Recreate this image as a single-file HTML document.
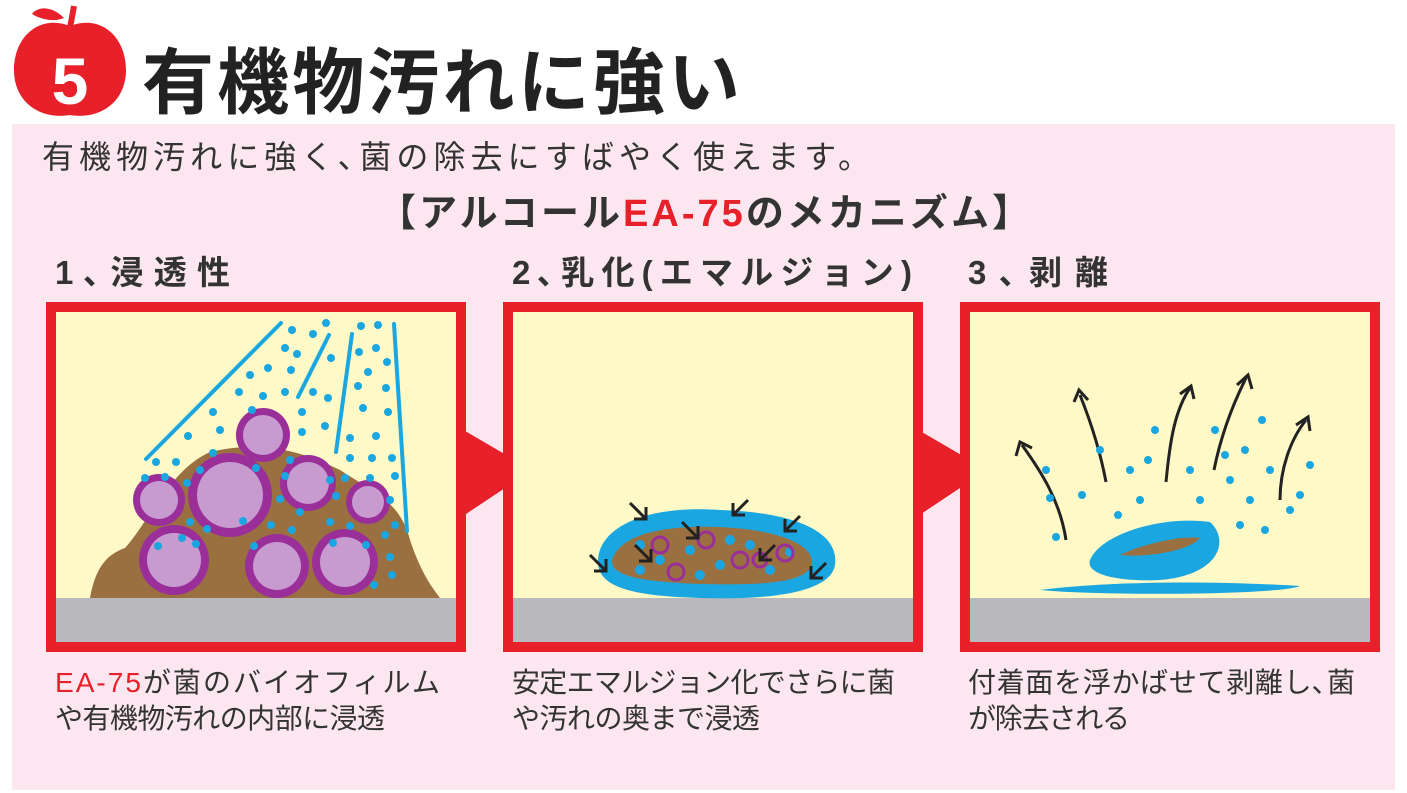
<!DOCTYPE html>
<html><head><meta charset="utf-8"><style>
body{margin:0;width:1407px;height:793px;background:#fff;overflow:hidden}
svg{display:block}
text{font-family:"Liberation Sans","Noto Sans CJK JP",sans-serif}
</style></head><body>
<svg width="1407" height="793" viewBox="0 0 1407 793" xmlns="http://www.w3.org/2000/svg">
<rect x="12" y="124" width="1383" height="666" fill="#fce7f0"/>
<!-- apple -->
<path d="M70 26 C40 14 14 36 14 70 C14 102 40 120 70 115 C100 120 126 102 126 70 C126 36 100 14 70 26Z" fill="#e8202a"/>
<path d="M70 28 L74 6" stroke="#e8202a" stroke-width="6"/>
<path d="M64 18 C52 6 38 6 32 14 C42 20 54 22 64 18Z" fill="#e8202a"/>
<text x="70" y="104" font-size="66" font-weight="bold" fill="#fff" text-anchor="middle">5</text>
<text x="142" y="108" font-size="72" font-weight="bold" fill="#222" textLength="598" lengthAdjust="spacing">有機物汚れに強い</text>
<text x="42" y="168" font-size="32" fill="#333" textLength="828" lengthAdjust="spacing">有機物汚れに強く､菌の除去にすばやく使えます。</text>
<text x="378" y="226" font-size="38" font-weight="bold" fill="#333" textLength="652" lengthAdjust="spacing">【アルコール<tspan fill="#e8202a">EA-75</tspan>のメカニズム】</text>
<text x="55" y="284" font-size="33" font-weight="bold" fill="#333" textLength="175" lengthAdjust="spacing">1､浸透性</text>
<text x="512" y="284" font-size="33" font-weight="bold" fill="#333" textLength="400" lengthAdjust="spacing">2､乳化(エマルジョン)</text>
<text x="968" y="284" font-size="33" font-weight="bold" fill="#333" textLength="140" lengthAdjust="spacing">3､剥離</text>
<!-- connectors -->
<polygon points="460,428 532,470 460,518" fill="#e8202a"/>
<polygon points="915,428 987,470 915,518" fill="#e8202a"/>
<!-- panels -->
<g>
<rect x="51" y="307" width="410" height="340" fill="#fef9c6" stroke="#e8202a" stroke-width="10"/>
<rect x="56" y="598" width="400" height="44" fill="#b9b9bd"/>
<rect x="508" y="307" width="410" height="340" fill="#fef9c6" stroke="#e8202a" stroke-width="10"/>
<rect x="513" y="598" width="400" height="44" fill="#b9b9bd"/>
<rect x="965" y="307" width="410" height="340" fill="#fef9c6" stroke="#e8202a" stroke-width="10"/>
<rect x="970" y="598" width="400" height="44" fill="#b9b9bd"/>
</g>
<!-- panel1 -->
<path d="M90 598 C95 570 105 555 125 548 C150 520 170 470 210 452 C260 440 300 450 340 470 C370 490 400 500 410 540 C420 570 430 585 440 598Z" fill="#9a7040"/>
<g stroke="#1aa6e0" stroke-width="4" stroke-linecap="round">
<line x1="146" y1="459" x2="281" y2="323"/><line x1="298" y1="397" x2="329" y2="335"/>
<line x1="336" y1="452" x2="352" y2="334"/><line x1="394" y1="324" x2="407" y2="531"/>
</g>
<g fill="#9b2f9a">
<circle cx="263" cy="435" r="27"/><circle cx="230" cy="495" r="42"/><circle cx="308" cy="483" r="28"/>
<circle cx="159" cy="500" r="26"/><circle cx="368" cy="502" r="22"/><circle cx="174" cy="560" r="35"/>
<circle cx="277" cy="566" r="32"/><circle cx="345" cy="562" r="33"/>
</g>
<g fill="#c79ad0">
<circle cx="263" cy="435" r="20"/><circle cx="230" cy="495" r="33"/><circle cx="308" cy="483" r="21"/>
<circle cx="159" cy="500" r="19"/><circle cx="368" cy="502" r="16"/><circle cx="174" cy="560" r="27"/>
<circle cx="277" cy="566" r="24"/><circle cx="345" cy="562" r="25"/>
</g>
<g fill="#1aa6e0">
<circle cx="292" cy="330" r="4"/><circle cx="313" cy="334" r="4"/><circle cx="326" cy="323" r="4"/><circle cx="361" cy="326" r="4"/><circle cx="378" cy="325" r="4"/>
<circle cx="285" cy="348" r="4"/><circle cx="297" cy="354" r="4"/><circle cx="359" cy="352" r="4"/><circle cx="376" cy="348" r="4"/><circle cx="387" cy="362" r="4"/>
<circle cx="250" cy="375" r="4"/><circle cx="268" cy="368" r="4"/><circle cx="291" cy="370" r="4"/><circle cx="331" cy="358" r="4"/><circle cx="368" cy="372" r="4"/>
<circle cx="239" cy="392" r="4"/><circle cx="263" cy="396" r="4"/><circle cx="285" cy="392" r="4"/><circle cx="313" cy="392" r="4"/><circle cx="328" cy="398" r="4"/><circle cx="358" cy="386" r="4"/><circle cx="386" cy="388" r="4"/>
<circle cx="213" cy="412" r="4"/><circle cx="252" cy="410" r="4"/><circle cx="302" cy="412" r="4"/><circle cx="325" cy="426" r="4"/><circle cx="363" cy="408" r="4"/><circle cx="388" cy="412" r="4"/>
<circle cx="188" cy="436" r="4"/><circle cx="220" cy="430" r="4"/><circle cx="302" cy="432" r="4"/><circle cx="350" cy="438" r="4"/><circle cx="376" cy="436" r="4"/>
<circle cx="156" cy="462" r="4"/><circle cx="176" cy="462" r="4"/><circle cx="213" cy="453" r="4"/><circle cx="290" cy="460" r="4"/><circle cx="350" cy="458" r="4"/><circle cx="372" cy="458" r="4"/><circle cx="392" cy="458" r="4"/>
<circle cx="145" cy="478" r="4"/><circle cx="165" cy="477" r="4"/><circle cx="187" cy="483" r="4"/><circle cx="200" cy="470" r="4"/><circle cx="256" cy="468" r="4"/><circle cx="285" cy="476" r="4"/><circle cx="330" cy="480" r="4"/><circle cx="345" cy="478" r="4"/><circle cx="370" cy="478" r="4"/><circle cx="395" cy="476" r="4"/>
<circle cx="280" cy="499" r="4"/><circle cx="300" cy="512" r="4"/><circle cx="336" cy="496" r="4"/><circle cx="390" cy="500" r="4"/><circle cx="395" cy="525" r="4"/>
<circle cx="190" cy="522" r="4"/><circle cx="207" cy="529" r="4"/><circle cx="243" cy="521" r="4"/><circle cx="271" cy="525" r="4"/><circle cx="292" cy="530" r="4"/><circle cx="330" cy="522" r="4"/><circle cx="350" cy="526" r="4"/><circle cx="385" cy="535" r="4"/>
<circle cx="158" cy="546" r="4"/><circle cx="182" cy="538" r="4"/><circle cx="196" cy="544" r="4"/><circle cx="254" cy="546" r="4"/><circle cx="333" cy="543" r="4"/><circle cx="366" cy="545" r="4"/><circle cx="390" cy="557" r="4"/><circle cx="392" cy="575" r="4"/><circle cx="374" cy="585" r="4"/>
</g>
<!-- panel2 -->
<path d="M598 560 C600 525 650 505 720 510 C790 512 840 530 835 565 C830 595 760 600 700 598 C640 596 596 590 598 560Z" fill="#1aa6e0"/>
<path d="M612 560 C620 535 660 525 720 527 C780 530 815 545 812 565 C805 585 750 585 700 584 C650 582 610 578 612 560Z" fill="#9a7040"/>
<g fill="#1aa6e0">
<circle cx="640" cy="545" r="5"/><circle cx="660" cy="560" r="5"/><circle cx="690" cy="550" r="5"/><circle cx="720" cy="565" r="5"/><circle cx="750" cy="545" r="5"/><circle cx="770" cy="570" r="5"/><circle cx="700" cy="575" r="5"/><circle cx="640" cy="570" r="5"/><circle cx="790" cy="552" r="5"/><circle cx="730" cy="540" r="5"/>
</g>
<g fill="none" stroke="#9b2f9a" stroke-width="3">
<circle cx="660" cy="545" r="8"/><circle cx="706" cy="540" r="8"/><circle cx="740" cy="560" r="8"/><circle cx="785" cy="553" r="8"/><circle cx="676" cy="572" r="8"/><circle cx="760" cy="560" r="7"/>
</g>
<g stroke="#222" stroke-width="3" fill="none">
<path d="M630 503 L646 519 M646 507 L646 519 L634 519"/><path d="M682 522 L698 538 M698 526 L698 538 L686 538"/>
<path d="M635 545 L651 561 M651 549 L651 561 L639 561"/><path d="M590 555 L606 571 M606 559 L606 571 L594 571"/>
<path d="M748 500 L733 515 M733 503 L733 515 L745 515"/><path d="M800 516 L785 531 M785 519 L785 531 L797 531"/>
<path d="M775 545 L760 560 M760 548 L760 560 L772 560"/><path d="M826 563 L811 578 M811 566 L811 578 L823 578"/>
</g>
<!-- panel3 -->
<path d="M1040 590 C1100 582 1200 580 1300 586 C1280 595 1100 596 1040 590Z" fill="#1aa6e0"/>
<path d="M1090 560 C1100 535 1160 515 1210 522 C1230 540 1220 575 1160 580 C1120 582 1085 575 1090 560Z" fill="#1aa6e0"/>
<path d="M1120 555 C1140 545 1180 535 1200 538 C1190 550 1150 558 1120 555Z" fill="#9a7040"/>
<g stroke="#222" stroke-width="3" fill="none">
<path d="M1066 540 C1060 500 1040 470 1022 445"/><path d="M1016 456 L1020 442 L1032 448"/>
<path d="M1106 482 C1100 450 1090 420 1080 395"/><path d="M1074 402 L1079 390 L1088 400"/>
<path d="M1166 482 C1170 440 1175 410 1190 388"/><path d="M1180 394 L1191 386 L1194 399"/>
<path d="M1214 470 C1220 440 1230 410 1246 378"/><path d="M1237 385 L1248 375 L1252 389"/>
<path d="M1280 500 C1280 470 1290 440 1306 420"/><path d="M1296 425 L1308 417 L1310 431"/>
</g>
<g fill="#1aa6e0">
<circle cx="1046" cy="470" r="4"/><circle cx="1050" cy="498" r="4"/><circle cx="1056" cy="537" r="4"/><circle cx="1082" cy="495" r="4"/><circle cx="1100" cy="450" r="4"/><circle cx="1118" cy="515" r="4"/>
<circle cx="1130" cy="470" r="4"/><circle cx="1148" cy="460" r="4"/><circle cx="1155" cy="430" r="4"/><circle cx="1140" cy="500" r="4"/><circle cx="1190" cy="470" r="4"/><circle cx="1200" cy="500" r="4"/>
<circle cx="1215" cy="430" r="4"/><circle cx="1230" cy="480" r="4"/><circle cx="1245" cy="450" r="4"/><circle cx="1250" cy="500" r="4"/><circle cx="1262" cy="420" r="4"/><circle cx="1270" cy="470" r="4"/>
<circle cx="1265" cy="530" r="4"/><circle cx="1290" cy="510" r="4"/><circle cx="1300" cy="495" r="4"/><circle cx="1310" cy="465" r="4"/><circle cx="1240" cy="525" r="4"/><circle cx="1225" cy="455" r="4"/>
</g>
<!-- captions -->
<text x="55" y="692" font-size="28" fill="#333" textLength="385" lengthAdjust="spacing"><tspan fill="#e8202a">EA-75</tspan>が菌のバイオフィルム</text>
<text x="55" y="728" font-size="28" fill="#333" textLength="330" lengthAdjust="spacing">や有機物汚れの内部に浸透</text>
<text x="512" y="692" font-size="28" fill="#333" textLength="383" lengthAdjust="spacing">安定エマルジョン化でさらに菌</text>
<text x="512" y="728" font-size="28" fill="#333" textLength="248" lengthAdjust="spacing">や汚れの奥まで浸透</text>
<text x="968" y="692" font-size="28" fill="#333" textLength="387" lengthAdjust="spacing">付着面を浮かばせて剥離し､菌</text>
<text x="968" y="728" font-size="28" fill="#333" textLength="162" lengthAdjust="spacing">が除去される</text>
</svg>
</body></html>
